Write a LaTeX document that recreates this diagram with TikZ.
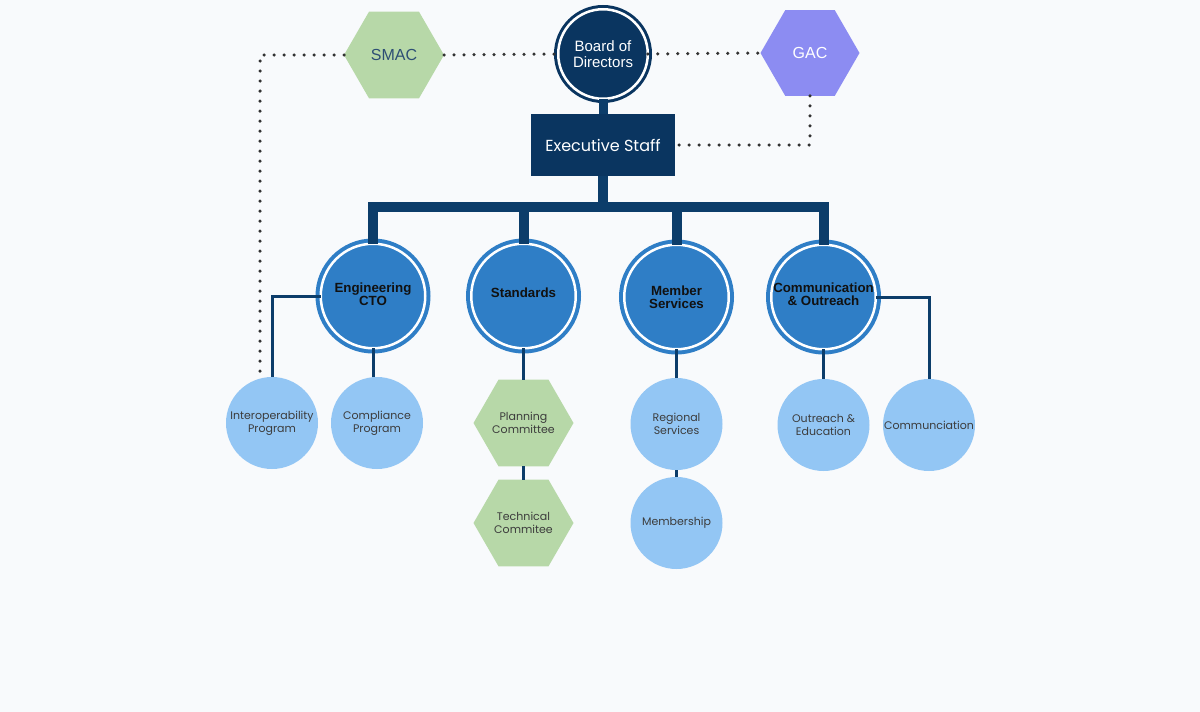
\documentclass[tikz,border=0pt]{standalone}
\usepackage{fontspec}
\setmainfont{Liberation Sans}
\newfontfamily\geofont{Poppins}
\usetikzlibrary{shapes.geometric}
\definecolor{bg}{HTML}{F8FAFC}
\definecolor{navy}{HTML}{0A3560}
\definecolor{linkblue}{HTML}{0C3D6A}
\definecolor{midblue}{HTML}{2F7EC6}
\definecolor{lightblue}{HTML}{93C6F4}
\definecolor{sage}{HTML}{B7D8A8}
\definecolor{peri}{HTML}{8C8CF2}
\definecolor{dotgray}{HTML}{333333}
\definecolor{smactext}{HTML}{2D4E74}
\definecolor{leaftext}{HTML}{3C3C3C}
\definecolor{midtext}{HTML}{111111}
\begin{document}
\begin{tikzpicture}[x=1pt,y=-1pt,
  hexa/.style={regular polygon, regular polygon sides=6, minimum size=100pt,
    inner sep=0pt, outer sep=0pt, fill=sage, align=center},
  leaftxt/.style={font=\geofont\fontsize{11}{13}\selectfont, text=leaftext},
  leaf/.style={circle, fill=lightblue, minimum size=92pt, inner sep=0pt,
    outer sep=0pt, align=center, leaftxt},
  dept/.style={circle, fill=midblue, draw=midblue, line width=4pt, double=white,
    double distance=2.5pt, minimum size=104.5pt, inner sep=0pt, outer sep=0pt},
  deptlabel/.style={font=\fontsize{13.3}{13}\selectfont\bfseries, text=midtext, align=center},
  topcirc/.style={circle, fill=navy, draw=navy, line width=3pt, double=white,
    double distance=2.5pt, minimum size=89.5pt, inner sep=0pt, outer sep=0pt,
    align=center, font=\fontsize{15}{16}\selectfont, text=white},
  execbox/.style={rectangle, fill=navy, minimum width=144pt, minimum height=62pt,
    inner sep=0pt, outer sep=0pt, font=\geofont\fontsize{16}{18}\selectfont, text=white},
  trunk/.style={draw=linkblue, line width=10pt},
  twig/.style={draw=linkblue, line width=3pt},
  dotline/.style={draw=dotgray, line width=3.5pt, line cap=round,
    dash pattern=on 0pt off 10pt}
]
\fill[bg] (0,0) rectangle (1200,712);
\useasboundingbox (0,0) rectangle (1200,712);

% top level
\node[topcirc] (board) at (603,54) {Board of\\Directors};
\node[execbox] (exec) at (603,145) {Executive Staff};
\node[hexa, font=\fontsize{16}{18}\selectfont, text=smactext] (smac) at (394,55) {SMAC};
\node[hexa, fill=peri, minimum size=99pt, font=\fontsize{16}{18}\selectfont, text=white] (gac) at (810,53) {GAC};

% departments
\node[dept] (eng) at (373,296) {};
\node[deptlabel] (englab) at (373,294.5) {Engineering\\CTO};
\node[dept] (std) at (523.5,296) {};
\node[deptlabel] (stdlab) at (523.5,293) {Standards};
\node[dept] (mem) at (676.5,297) {};
\node[deptlabel] (memlab) at (676.5,297) {Member\\Services};
\node[dept] (comm) at (823.5,297) {};
\node[deptlabel] (commlab) at (823.5,294.5) {Communication\\\& Outreach};

% leaves
\node[leaf] (interop) at (272,423) {Interoperability\\Program};
\node[leaf] (compl) at (377,423) {Compliance\\Program};
\node[hexa] (plan) at (523.5,423) {};
\node[leaftxt, align=center] (planlab) at (523.5,423) {Planning\\Committee};
\node[hexa] (tech) at (523.5,523) {};
\node[leaftxt, align=center] (techlab) at (523.5,523) {Technical\\Commitee};
\node[leaf] (reg) at (676.5,424) {Regional\\Services};
\node[leaf] (memb) at (676.5,523) {Membership};
\node[leaf] (outr) at (823.5,425) {Outreach \&\\Education};
\node[leaf] (commu) at (929,425) {Communciation};

% trunk connectors
\coordinate (bar) at (603,207);
\draw[trunk, line width=9pt] (board.south) -- (exec.north);
\draw[trunk] (exec.south) -- (bar);
\draw[trunk] (eng.north) |- (bar) -| (comm.north);
\draw[trunk] (std.north) -- (std.north |- bar);
\draw[trunk] (mem.north) -- (mem.north |- bar);

% twig connectors
\draw[twig] (eng.west) -| (interop.north);
\draw[twig] (eng.south) -- (eng.south |- compl.north);
\draw[twig] (std.south) -- (plan.north);
\draw[twig] (plan.south) -- (tech.north);
\draw[twig] (mem.south) -- (reg.north);
\draw[twig] (reg.south) -- (memb.north);
\draw[twig] (comm.south) -- (outr.north);
\draw[twig] (comm.east) -| (commu.north);

% dotted advisory links
\coordinate (dotend) at (260,373);
\draw[dotline] (smac.west) -| (dotend);
\draw[dotline] (smac.east) -- (board.west);
\draw[dotline] (board.east) -- (gac.west);
\draw[dotline] (gac.south) |- (exec.east);
\end{tikzpicture}
\end{document}
